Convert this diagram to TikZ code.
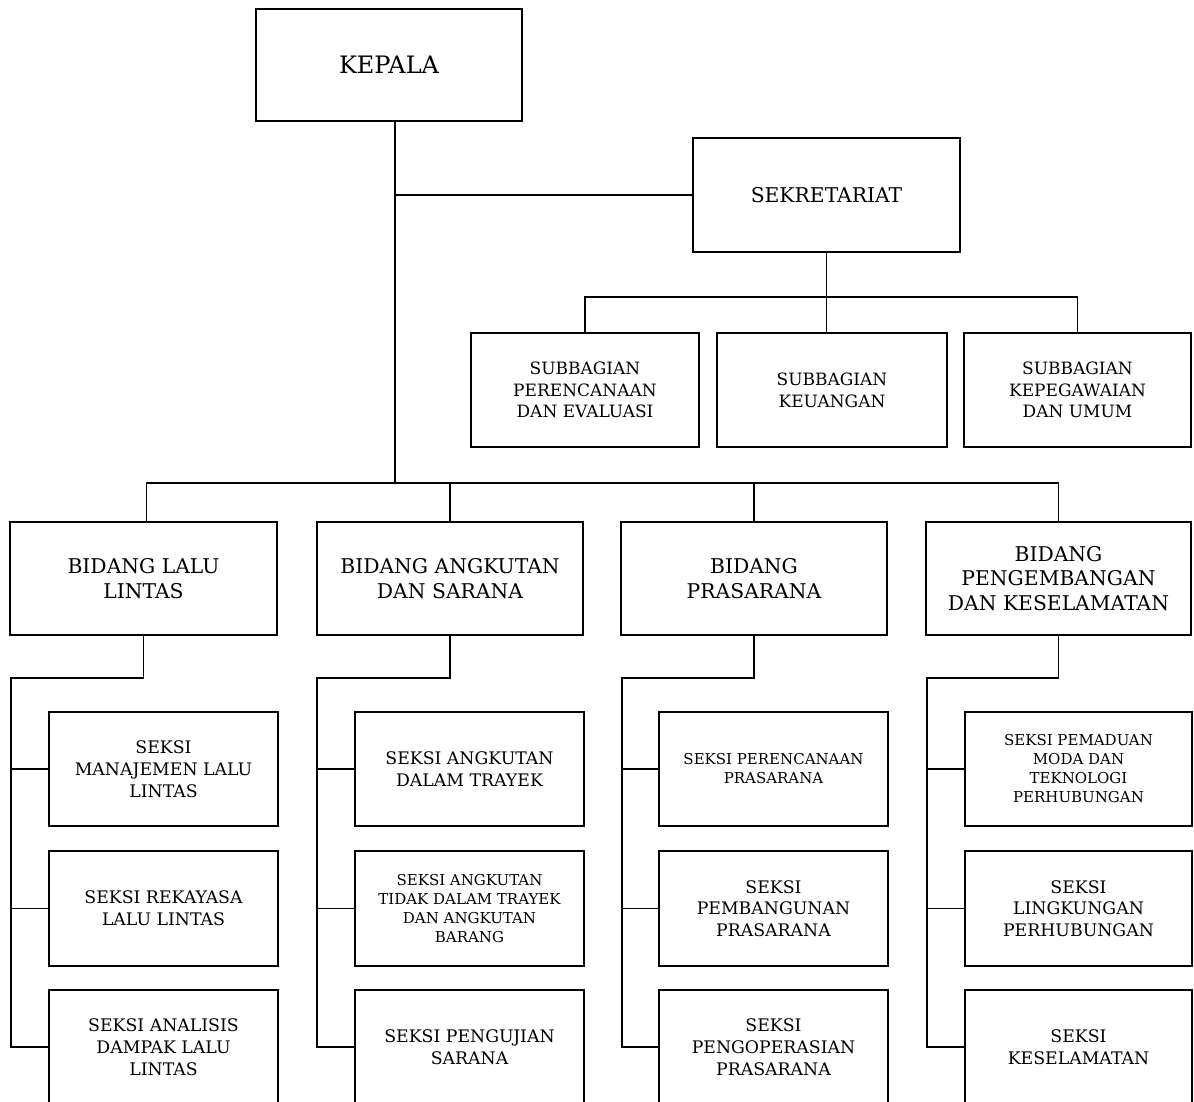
\documentclass[tikz,border=0pt]{standalone}
\usepackage{fontspec}
\setmainfont{DejaVu Serif}
\begin{document}
\begin{tikzpicture}[x=1pt,y=-1pt,
  box/.style={draw, line width=1.8pt, align=center, inner sep=0pt, minimum height=113pt},
  wire/.style={line width=1.6pt},
  fbig/.style={font=\fontsize{24}{28}\selectfont},
  fmid/.style={font=\fontsize{20.3}{24.5}\selectfont},
  fsub/.style={font=\fontsize{17}{21.7}\selectfont},
  fsek/.style={font=\fontsize{17.3}{21.7}\selectfont},
  fsml/.style={font=\fontsize{15}{19}\selectfont},
  fxsm/.style={font=\fontsize{15}{19}\selectfont}]
\useasboundingbox (0,0) rectangle (1194,1102);
\fill[white] (0,0) rectangle (1194,1102);

% top level
\node[box, fbig, minimum width=266pt, minimum height=112pt] (kepala) at (389,65) {KEPALA};
\node[box, fmid, minimum width=267pt, minimum height=114pt] (sek) at (826.5,195) {SEKRETARIAT};

\node[box, fsub, minimum width=228pt, minimum height=114pt] (sub1) at (585,390) {SUBBAGIAN\\PERENCANAAN\\DAN EVALUASI};
\node[box, fsub, minimum width=230pt, minimum height=114pt] (sub2) at (832,390) {SUBBAGIAN\\KEUANGAN};
\node[box, fsub, minimum width=227pt, minimum height=114pt] (sub3) at (1077.5,390) {SUBBAGIAN\\KEPEGAWAIAN\\DAN UMUM};

% bidang
\node[box, fmid, minimum width=267pt] (b1) at (143.5,578.5) {BIDANG LALU\\LINTAS};
\node[box, fmid, minimum width=266pt] (b2) at (450,578.5) {BIDANG ANGKUTAN\\DAN SARANA};
\node[box, fmid, minimum width=266pt] (b3) at (754,578.5) {BIDANG\\PRASARANA};
\node[box, fmid, minimum width=265pt] (b4) at (1058.5,578.5) {BIDANG\\PENGEMBANGAN\\DAN KESELAMATAN};

% seksi column 1
\node[box, fsek, minimum width=229pt, minimum height=114pt] (s11) at (163.5,769) {SEKSI\\MANAJEMEN LALU\\LINTAS};
\node[box, fsek, minimum width=229pt, minimum height=115pt] (s12) at (163.5,908.5) {SEKSI REKAYASA\\LALU LINTAS};
\node[box, fsek, minimum width=229pt, minimum height=114pt] (s13) at (163.5,1047) {SEKSI ANALISIS\\DAMPAK LALU\\LINTAS};
% column 2
\node[box, fsek, minimum width=229pt, minimum height=114pt] (s21) at (469.5,769) {SEKSI ANGKUTAN\\DALAM TRAYEK};
\node[box, fsml, minimum width=229pt, minimum height=115pt] (s22) at (469.5,908.5) {SEKSI ANGKUTAN\\TIDAK DALAM TRAYEK\\DAN ANGKUTAN\\BARANG};
\node[box, fsek, minimum width=229pt, minimum height=114pt] (s23) at (469.5,1047) {SEKSI PENGUJIAN\\SARANA};
% column 3
\node[box, fsml, minimum width=229pt, minimum height=114pt] (s31) at (773.5,769) {SEKSI PERENCANAAN\\PRASARANA};
\node[box, fsek, minimum width=229pt, minimum height=115pt] (s32) at (773.5,908.5) {SEKSI\\PEMBANGUNAN\\PRASARANA};
\node[box, fsek, minimum width=229pt, minimum height=114pt] (s33) at (773.5,1047) {SEKSI\\PENGOPERASIAN\\PRASARANA};
% column 4
\node[box, fxsm, minimum width=227pt, minimum height=114pt] (s41) at (1078.5,769) {SEKSI PEMADUAN\\MODA DAN\\TEKNOLOGI\\PERHUBUNGAN};
\node[box, fsek, minimum width=227pt, minimum height=115pt] (s42) at (1078.5,908.5) {SEKSI\\LINGKUNGAN\\PERHUBUNGAN};
\node[box, fsek, minimum width=227pt, minimum height=114pt] (s43) at (1078.5,1047) {SEKSI\\KESELAMATAN};

% connector coordinates
\coordinate (kb) at (395,483);
\coordinate (sb) at (828,297);
\coordinate (t1) at (11,678);
\coordinate (t2) at (317,678);
\coordinate (t3) at (622,678);
\coordinate (t4) at (927,678);

% kepala trunk
\draw[wire] ([xshift=6pt]kepala.south) -- (kb);
\draw[wire] (kb |- sek.west) -- (sek.west);
\draw[wire] ([xshift=3pt]b1.north) -- ([xshift=3pt]b1.north |- kb) -- (b4.north |- kb) -- (b4.north);
\draw[wire] (b2.north) -- (b2.north |- kb);
\draw[wire] (b3.north) -- (b3.north |- kb);

% sekretariat
\draw[wire] (sek.south) -- (sek.south |- sub2.north);
\draw[wire] (sub1.north) -- (sub1.north |- sb) -- (sub3.north |- sb) -- (sub3.north);

% bidang to seksi
\draw[wire] (b1.south) |- (t1) -- (t1 |- s13.west) -- (s13.west);
\draw[wire] (t1 |- s11.west) -- (s11.west);
\draw[wire] (t1 |- s12.west) -- (s12.west);

\draw[wire] (b2.south) |- (t2) -- (t2 |- s23.west) -- (s23.west);
\draw[wire] (t2 |- s21.west) -- (s21.west);
\draw[wire] (t2 |- s22.west) -- (s22.west);

\draw[wire] (b3.south) |- (t3) -- (t3 |- s33.west) -- (s33.west);
\draw[wire] (t3 |- s31.west) -- (s31.west);
\draw[wire] (t3 |- s32.west) -- (s32.west);

\draw[wire] (b4.south) |- (t4) -- (t4 |- s43.west) -- (s43.west);
\draw[wire] (t4 |- s41.west) -- (s41.west);
\draw[wire] (t4 |- s42.west) -- (s42.west);
\end{tikzpicture}
\end{document}
